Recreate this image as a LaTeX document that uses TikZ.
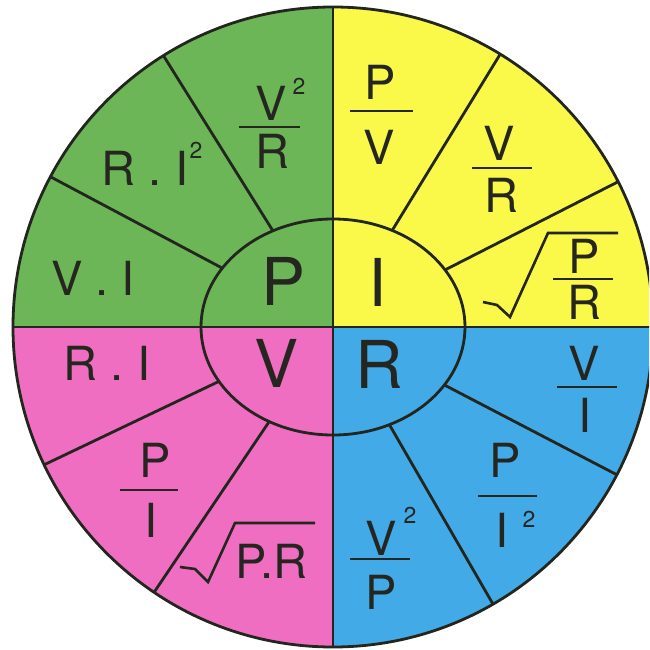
\documentclass[tikz,border=0pt]{standalone}
\usepackage{fontspec}
\setmainfont{TeX Gyre Heros}
\definecolor{cgreen}{RGB}{108,182,88}
\definecolor{cyellow}{RGB}{250,248,72}
\definecolor{cpink}{RGB}{240,110,194}
\definecolor{cblue}{RGB}{66,170,230}
\definecolor{linec}{RGB}{35,38,30}
\definecolor{txt}{RGB}{38,38,32}
\begin{document}
\begin{tikzpicture}[x=1pt,y=-1pt,
  ink/.style={draw=linec, line width=2.8pt},
  big/.style={font=\fontsize{66}{66}\selectfont, text=txt, inner sep=0pt, anchor=base},
  frm/.style={font=\fontsize{47}{47}\selectfont, text=txt, inner sep=0pt, anchor=base},
  supr/.style={font=\fontsize{23}{23}\selectfont, text=txt, inner sep=0pt, anchor=base},
  fbar/.style={draw=txt, line width=2.8pt},
  rad/.style={draw=txt, line width=2.6pt, line join=miter}]
\useasboundingbox (0,0) rectangle (649,650);
\clip (0,0) rectangle (649,650);
\coordinate (c) at (333,327);
% quadrant fills
\begin{scope}
  \clip (c) circle[radius=320];
  \fill[cgreen]  (c) rectangle ++(-330,-330);
  \fill[cyellow] (c) rectangle ++(330,-330);
  \fill[cpink]   (c) rectangle ++(-330,330);
  \fill[cblue]   (c) rectangle ++(330,330);
\end{scope}
% radial lines
\foreach \a in {122,152,58.5,27,205.5,236,332.5,300}
  \draw[ink] (c) -- ++(-\a:320);
% refill the inner ellipse
\begin{scope}
  \clip (c) ellipse[x radius=132, y radius=108];
  \fill[cgreen]  (c) rectangle ++(-140,-120);
  \fill[cyellow] (c) rectangle ++(140,-120);
  \fill[cpink]   (c) rectangle ++(-140,120);
  \fill[cblue]   (c) rectangle ++(140,120);
\end{scope}
\draw[ink] (c) ellipse[x radius=132, y radius=108];
\draw[ink] (c) ++(0,-320) -- ++(0,640);
\draw[ink] (c) ++(-320,0) -- ++(640,0);
\draw[ink] (c) circle[radius=320];
% central letters
\node[big] (bP) at (284,305) {P};
\node[big] (bI) at (378,306) {I};
\node[big] (bV) at (277,387) {V};
\node[big] (bR) at (379,388) {R};
% green quadrant
\node[frm] (gvi) at (93,295) {V . I};
\node[frm] (gri) at (145,185) {R . I};
\node[supr] (gris) at (196,158) {2};
\node[frm] (gvrn) at (271,121) {V};
\node[supr] (gvrs) at (299,95) {2};
\draw[fbar] (239,127) -- (300,127);
\node[frm] (gvrd) at (272,168) {R};
% yellow quadrant
\node[frm] (ypvn) at (380,100) {P};
\draw[fbar] (350,111) -- (413,111);
\node[frm] (ypvd) at (379,164) {V};
\node[frm] (yvrn) at (499,160) {V};
\draw[fbar] (472,168) -- (532,168);
\node[frm] (yvrd) at (501,212) {R};
\node[frm] (yprn) at (584,273) {P};
\draw[fbar] (553,279) -- (613,279);
\node[frm] (yprd) at (584,319) {R};
\draw[rad] (483,302) -- (497,305) -- (510,317) -- (548,233) -- (618,233);
% pink quadrant
\node[frm] (pri) at (107,380) {R . I};
\node[frm] (ppin) at (155,477) {P};
\draw[fbar] (120,490) -- (178,490);
\node[frm] (ppid) at (151,537) {I};
\node[frm] (ppr) at (271,578) {P.R};
\draw[rad] (180,567) -- (195,569) -- (208,582) -- (235,523) -- (315,523);
% blue quadrant
\node[frm] (bvin) at (584,380) {V};
\draw[fbar] (557,387) -- (617,387);
\node[frm] (bvid) at (585,432) {I};
\node[frm] (bpin) at (505,477) {P};
\draw[fbar] (478,496) -- (537,496);
\node[frm] (bpid) at (502,547) {I};
\node[supr] (bpis) at (529,527) {2};
\node[frm] (bvpn) at (381,555) {V};
\node[supr] (bvps) at (410,523) {2};
\draw[fbar] (350,559) -- (410,559);
\node[frm] (bvpd) at (381,609) {P};
\end{tikzpicture}
\end{document}
